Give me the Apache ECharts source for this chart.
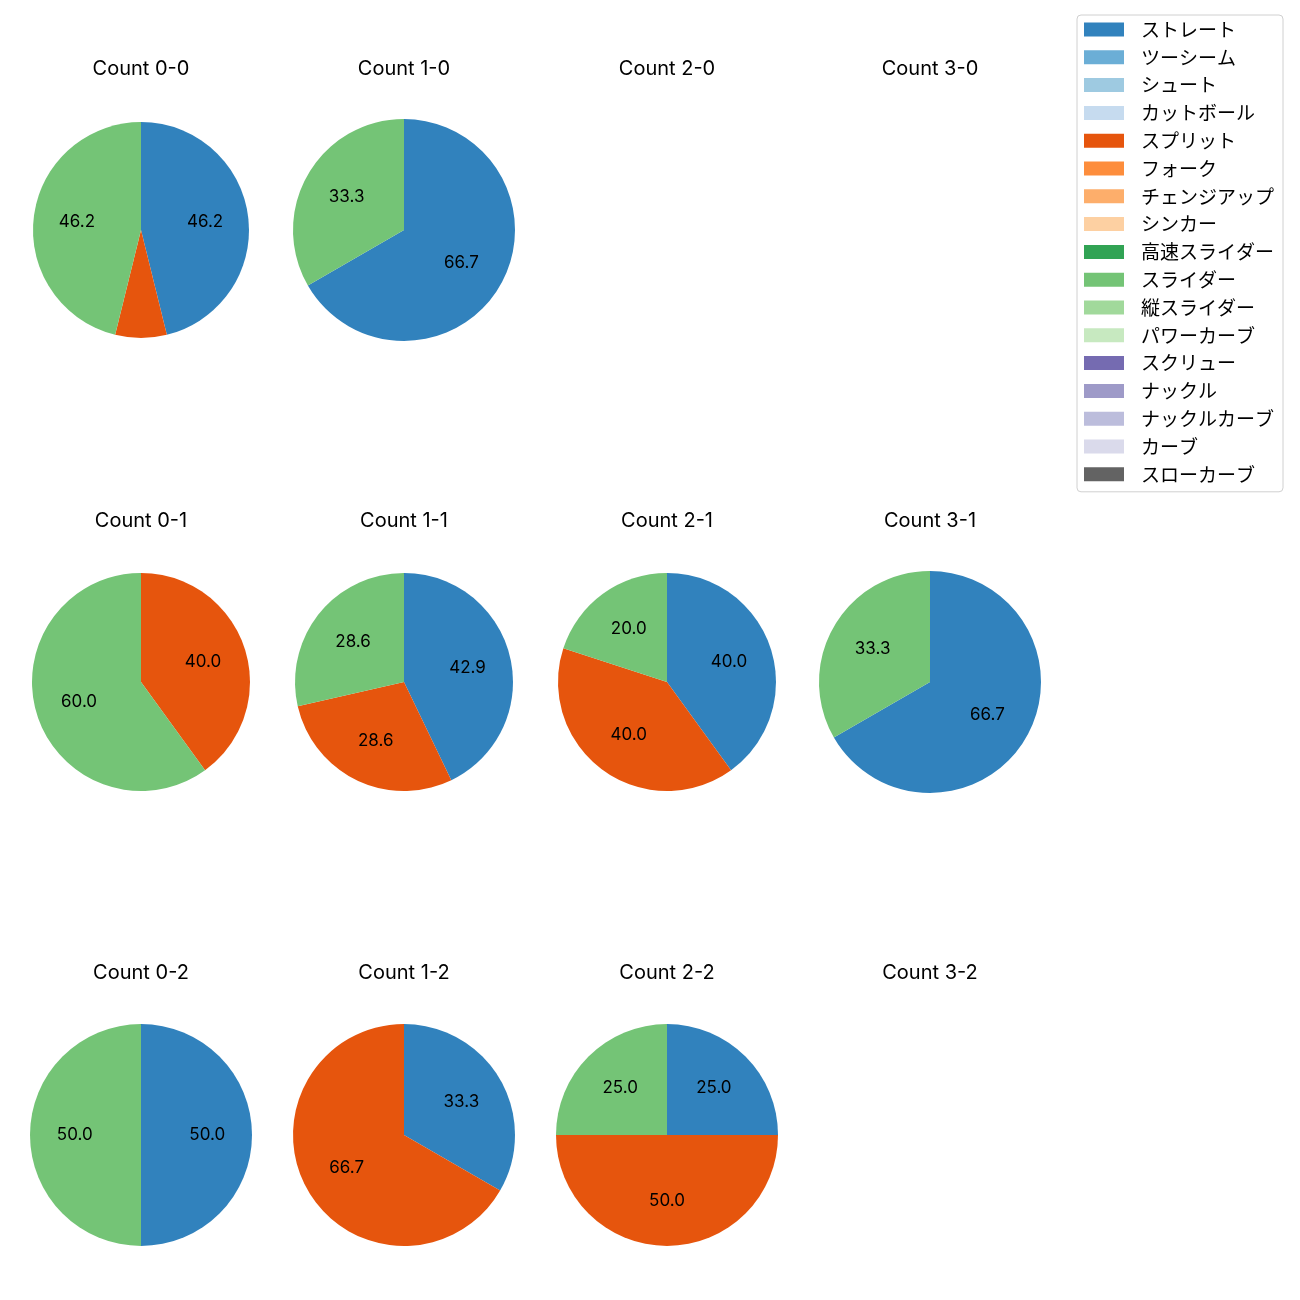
<!DOCTYPE html>
<html>
<head>
<meta charset="utf-8">
<script src="https://cdn.jsdelivr.net/npm/echarts@6/dist/echarts.min.js"></script>
<style>html,body{margin:0;padding:0;background:#fff;}#c{width:1300px;height:1300px;}</style>
</head>
<body>
<div id="c"></div>
<script>
const categories = ['ストレート','ツーシーム','シュート','カットボール','スプリット','フォーク','チェンジアップ','シンカー','高速スライダー','スライダー','縦スライダー','パワーカーブ','スクリュー','ナックル','ナックルカーブ','カーブ','スローカーブ'];
const colors = ['#3182bd','#6baed6','#9ecae1','#c6dbef','#e6550d','#fd8d3c','#fdae6b','#fdd0a2','#31a354','#74c476','#a1d99b','#c7e9c0','#756bb1','#9e9ac8','#bcbddc','#dadaeb','#636363'];
const countTitles = ['Count 0-0','Count 1-0','Count 2-0','Count 3-0','Count 0-1','Count 1-1','Count 2-1','Count 3-1','Count 0-2','Count 1-2','Count 2-2','Count 3-2'];
const straightVals = [6,2,0,0, 0,3,2,2, 1,1,1,0];
const splitVals    = [1,0,0,0, 2,2,2,0, 0,2,2,0];
const sliderVals   = [6,1,0,0, 3,2,1,1, 1,0,1,0];

// layout (not data)
const colX = [141, 404, 667, 930];
const rowY = [230, 682, 1135];
const titleY = [69, 521, 973];
const radii = [108,111,110,110, 109,109,109,111, 111,111,111,110];

const chart = echarts.init(document.getElementById('c'));
const titles = [];
const series = [];
countTitles.forEach((t, i) => {
  const col = i % 4, row = Math.floor(i / 4);
  titles.push({
    text: t, left: colX[col], top: titleY[row] - 11, textAlign: 'center', padding: 0,
    textStyle: {fontFamily: 'Inter, "Noto Sans CJK JP"', fontSize: 20, lineHeight: 22, fontWeight: 'normal', color: '#000'}
  });
  const data = categories.map((name) => {
    let v = 0;
    if (name === 'ストレート') v = straightVals[i];
    else if (name === 'スプリット') v = splitVals[i];
    else if (name === 'スライダー') v = sliderVals[i];
    return {name: name, value: v};
  });
  const total = data.reduce((s, d) => s + d.value, 0);
  const r = radii[i];
  series.push({
    type: 'pie', center: [colX[col], rowY[row]], radius: [0, r],
    startAngle: 90, clockwise: true, stillShowZeroSum: false, avoidLabelOverlap: false,
    data: data, label: {show: false}, labelLine: {show: false},
    itemStyle: {borderWidth: 0}, emphasis: {disabled: true}, animation: false
  });
  series.push({
    type: 'pie', center: [colX[col], rowY[row]], radius: [0, r * 1.14],
    startAngle: 90, clockwise: true, stillShowZeroSum: false, avoidLabelOverlap: false,
    silent: true, legendHoverLink: false,
    data: data.map(d => ({name: d.name, value: d.value})),
    itemStyle: {color: 'rgba(0,0,0,0)', borderWidth: 0},
    label: {
      show: true, position: 'inside', color: '#000', fontSize: 17, fontFamily: 'Inter',
      formatter: p => {
        if (!total || p.value === 0) return '';
        const pct = p.value / total * 100;
        return pct < 10 ? '' : pct.toFixed(1);
      }
    },
    labelLine: {show: false}, emphasis: {disabled: true}, animation: false
  });
});

chart.setOption({
  backgroundColor: '#fff',
  color: colors,
  animation: false,
  title: titles,
  legend: {
    data: categories, orient: 'vertical', left: 1077, top: 15,
    itemWidth: 40, itemHeight: 14, itemGap: 8.8,
    padding: [5, 9, 8, 7],
    borderColor: '#d0d0d0', borderWidth: 1, borderRadius: 4,
    icon: 'rect',
    textStyle: {fontFamily: 'Noto Sans CJK JP', fontSize: 19, lineHeight: 19, width: 133, color: '#000', padding: [0, 0, 0, 12]}
  },
  series: series
});
</script>
</body>
</html>
